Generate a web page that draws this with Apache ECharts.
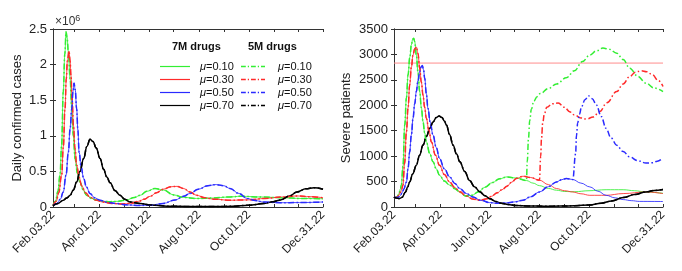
<!DOCTYPE html>
<html>
<head>
<meta charset="utf-8">
<script src="https://cdn.jsdelivr.net/npm/echarts@6/dist/echarts.min.js"></script>
<style>html,body{margin:0;padding:0;background:#fff}#c{width:682px;height:271px}</style>
</head>
<body>
<div id="c"></div>
<script>
// x: days since Feb.03.22
const tickDays = [0, 26, 57, 87, 118, 148, 179, 210, 240, 271, 301, 331];
const labelDays = [0, 57, 118, 179, 240, 331];
const tickLabels = ['Feb.03.22', 'Apr.01.22', 'Jun.01.22', 'Aug.01.22', 'Oct.01.22', 'Dec.31.22'];
const muNames = ['0.10', '0.30', '0.50', '0.70'];

// Daily confirmed cases (x10^6)
const casesMu10 = [[0,0.02],[3,0.08],[6,0.22],[8.6,0.45],[10.5,0.85],[12.6,1.62],[14.5,2.15],[16,2.46],[17.3,2.38],[18.8,2.18],[21,1.8],[23,1.38],[25,1.0],[27,0.68],[30,0.47],[33,0.35],[37,0.24],[41,0.165],[47,0.12],[54,0.094],[62,0.08],[70,0.075],[80,0.08],[90,0.1],[100,0.135],[107,0.165],[115,0.22],[125,0.26],[135,0.24],[148,0.17],[160,0.135],[176,0.12],[195,0.125],[215,0.14],[230,0.15],[258,0.14],[280,0.13],[305,0.12],[331,0.115]];
const casesMu30 = [[0,0.02],[4,0.08],[7,0.2],[10.6,0.45],[12.7,0.85],[14.7,1.38],[16.3,1.8],[17.6,2.05],[19.6,2.19],[21,2.05],[22,1.85],[23.5,1.5],[25,1.15],[27,0.82],[29,0.59],[32,0.42],[35,0.3],[40,0.2],[45,0.14],[52,0.1],[61,0.07],[72,0.05],[85,0.042],[95,0.05],[105,0.08],[112,0.11],[119,0.15],[127,0.2],[135,0.25],[145,0.285],[152,0.29],[160,0.26],[168,0.21],[176,0.165],[186,0.13],[197,0.11],[217,0.095],[240,0.1],[260,0.12],[280,0.14],[299,0.155],[315,0.145],[331,0.13]];
const casesMu50 = [[0,0.02],[5,0.05],[9,0.11],[12.6,0.21],[16,0.45],[18.8,0.77],[21,1.1],[23,1.38],[24.5,1.62],[25.8,1.74],[27.2,1.65],[29,1.38],[30.5,1.08],[32,0.77],[34.5,0.56],[37.6,0.4],[41,0.28],[45.4,0.19],[51,0.13],[57.7,0.094],[67,0.065],[78,0.048],[90,0.03],[105,0.022],[120,0.025],[135,0.05],[150,0.1],[160,0.15],[168,0.19],[178,0.25],[190,0.3],[200,0.315],[209,0.3],[217,0.26],[228,0.19],[238,0.12],[248,0.09],[258,0.07],[279,0.06],[300,0.062],[331,0.07]];
const casesMu70 = [[0,0.02],[6,0.05],[12,0.09],[17,0.125],[21,0.165],[25,0.24],[29,0.35],[33,0.5],[37.6,0.68],[41.5,0.85],[45.4,0.95],[49,0.92],[53,0.83],[57.7,0.68],[62,0.53],[66,0.42],[70,0.34],[76,0.23],[82,0.165],[88,0.11],[94.5,0.07],[107,0.048],[120,0.028],[140,0.012],[170,0.006],[200,0.006],[220,0.01],[240,0.025],[258,0.048],[270,0.075],[279,0.1],[290,0.155],[299,0.21],[310,0.255],[320,0.27],[331,0.25]];

// Severe patients, 7M drugs
const severe7Mu10 = [[0,200],[2,185],[4,200],[6,260],[8,360],[9,430],[11,800],[13.2,1610],[15.3,2150],[17.3,2600],[19.5,2950],[21.4,3190],[23,3300],[24.2,3320],[25.5,3250],[27.5,2990],[29.5,2650],[31.6,2270],[33.7,1950],[35.7,1680],[37.7,1460],[39.8,1280],[44,1050],[48,890],[52,750],[56,625],[62,510],[68.5,430],[75,360],[81,290],[88,215],[96,230],[104,300],[112,390],[121,480],[130,555],[139,592],[150,570],[163,520],[171,470],[179,420],[190,365],[200,330],[210,305],[222,300],[240,320],[261,340],[282,340],[296,320],[310,295],[331,270]];
const severe7Mu30 = [[0,200],[2,185],[4,195],[6,230],[8,290],[9.5,350],[11,430],[13,850],[15.3,1480],[17.3,1950],[19.3,2400],[21.4,2750],[23.4,2990],[25.5,3110],[27.5,3145],[29.5,3020],[31.6,2730],[33.7,2450],[35.7,2200],[37.7,1960],[39.8,1745],[43,1500],[46,1280],[51,1020],[56,820],[62,640],[68.5,490],[75,380],[81,300],[89,215],[97,155],[106,132],[114,160],[120,210],[127,280],[133,340],[139,410],[145,490],[150.6,560],[158.7,605],[168,580],[179,527],[190,440],[200,363],[210,320],[220,296],[230,260],[241,230],[261,230],[282,264],[310,296],[331,264]];
const severe7Mu50 = [[0,200],[2,185],[4,185],[6,200],[8,230],[10,280],[12,350],[15.3,490],[17.3,760],[19.3,1085],[21.4,1420],[23.4,1745],[25.5,2030],[27.5,2270],[29.5,2490],[31.6,2660],[33.5,2760],[34.9,2780],[36.3,2700],[37.8,2530],[39.8,2230],[41.8,1940],[44.5,1670],[48,1415],[52,1170],[56,955],[62,750],[68.5,590],[75,460],[81,363],[89,265],[97,197],[107,130],[118,85],[128,72],[138,80],[148,100],[158.7,132],[168,200],[179,296],[190,400],[200,493],[206,535],[212,560],[220,540],[230,470],[241,395],[251,310],[261,230],[272,180],[282,146],[292,125],[302,110],[331,108]];
const severe7Mu70 = [[0,200],[3,175],[6.6,165],[10,190],[14,290],[17,400],[19.3,493],[23,650],[27.5,823],[31.5,1020],[35.7,1217],[40,1390],[44,1547],[48,1670],[52,1760],[55.4,1790],[59,1760],[62,1690],[64.5,1610],[68.5,1420],[72.6,1217],[77,1040],[81,888],[87,700],[93,520],[99,400],[105.5,300],[112,220],[118,160],[125,110],[132,75],[140,50],[150,30],[165,20],[185,15],[205,18],[222,25],[241,40],[255,75],[268,120],[282,185],[296,245],[310,296],[320,325],[331,345]];

// Severe patients, 5M drugs: part after it leaves the 7M curve
const severe5Mu10Tail = [[164,900],[165.5,1350],[167,1700],[169,1920],[172,2080],[176,2170],[180,2230],[190,2330],[200,2420],[212,2540],[222,2680],[232,2860],[241,2990],[249,3070],[257,3125],[265,3100],[274,3025],[282,2900],[290,2730],[300,2570],[310,2435],[320,2340],[331,2270]];
const severe5Mu30Tail = [[180.5,1000],[181.5,1350],[183,1650],[185,1830],[188,1960],[195,2030],[202,2045],[210,1960],[216,1875],[222,1810],[230,1750],[237,1730],[245,1770],[253,1875],[262,2050],[274,2270],[282,2420],[290,2565],[297,2650],[304,2680],[311,2660],[318,2600],[325,2490],[331,2370]];
const severe5Mu50Tail = [[223.5,1050],[224.5,1400],[226,1650],[228,1820],[231,1980],[235,2110],[239.6,2185],[244,2130],[249,2005],[255,1780],[261,1545],[267,1360],[274,1215],[282,1090],[290,985],[300,910],[310,865],[318,870],[324,900],[331,965]];
const splitDays = [163, 179, 222];
const capacityLevel = 2830;

const withTail = (base, split, tail) => base.filter(p => p[0] <= split).concat(tail);
const severe5Mu10 = withTail(severe7Mu10, splitDays[0], severe5Mu10Tail);
const severe5Mu30 = withTail(severe7Mu30, splitDays[1], severe5Mu30Tail);
const severe5Mu50 = withTail(severe7Mu50, splitDays[2], severe5Mu50Tail);
const severe5Mu70 = severe7Mu70;

const colors = ['#33ee33', '#ff2a2a', '#2a2aff', '#000000'];
const FONT = 'Liberation Sans, Arial, Helvetica, sans-serif';
const dashDot = [6, 2.5, 1.5, 2.5];

const cases7 = [casesMu10, casesMu30, casesMu50, casesMu70];
const cases5 = [casesMu10, casesMu30, casesMu50, casesMu70];
const sev7 = [severe7Mu10, severe7Mu30, severe7Mu50, severe7Mu70];
const sev5 = [severe5Mu10, severe5Mu30, severe5Mu50, severe5Mu70];

const axisColor = '#333';
function xAx(grid, pos, labels) {
  return {
    type: 'value', gridIndex: grid, position: pos, min: 0, max: 331,
    axisLine: { show: true, onZero: false, lineStyle: { color: axisColor, width: 1 } },
    axisTick: { show: true, inside: true, length: 3, customValues: tickDays, lineStyle: { color: axisColor } },
    splitLine: { show: false },
    axisLabel: labels ? {
      show: true, rotate: 45, margin: 6, fontSize: 12, color: '#222', fontFamily: FONT,
      customValues: labelDays,
      formatter: v => tickLabels[labelDays.indexOf(v)] || ''
    } : { show: false }
  };
}
function yAx(grid, pos, max, interval, labels, name, nameGap) {
  return {
    type: 'value', gridIndex: grid, position: pos, min: 0, max: max, interval: interval,
    name: name || '', nameLocation: 'middle', nameGap: nameGap || 0,
    nameTextStyle: { fontSize: 13, color: '#222', fontFamily: FONT },
    axisLine: { show: true, lineStyle: { color: axisColor, width: 1 } },
    axisTick: { show: true, inside: true, length: 3, lineStyle: { color: axisColor } },
    splitLine: { show: false },
    axisLabel: labels ? { show: true, fontSize: 13, color: '#222', margin: 6, fontFamily: FONT, formatter: v => String(v) } : { show: false }
  };
}

const series = [];
function addSeries(arr, xi, yi) {
  for (let k = 0; k < 4; k++) {
    series.push({
      name: '7M μ=' + muNames[k], type: 'line', xAxisIndex: xi, yAxisIndex: yi,
      data: arr[0][k], showSymbol: false, symbol: 'none', smooth: 0.4, smoothMonotone: 'x',
      lineStyle: { color: colors[k], width: k === 3 ? 1.5 : 1, opacity: k === 3 ? 1 : 0.85 },
      itemStyle: { color: colors[k] }, z: 2
    });
  }
  for (let k = 0; k < 4; k++) {
    series.push({
      name: '5M μ=' + muNames[k], type: 'line', xAxisIndex: xi, yAxisIndex: yi,
      data: arr[1][k], showSymbol: false, symbol: 'none', smooth: 0.4, smoothMonotone: 'x',
      lineStyle: { color: colors[k], width: 1.5, type: dashDot },
      itemStyle: { color: colors[k] }, z: 3
    });
  }
}
addSeries([cases7, cases5], 0, 0);
addSeries([sev7, sev5], 2, 2);
series.push({
  name: 'capacity', type: 'line', xAxisIndex: 2, yAxisIndex: 2,
  data: [[0, capacityLevel], [331, capacityLevel]], showSymbol: false, symbol: 'none',
  lineStyle: { color: '#ff8c8c', width: 1 }, z: 1
});

const dashIcon = 'path://M0,0H6V2H0Z M8.5,0H10V2H8.5Z M12.5,0H18.5V2H12.5Z M21,0H22.5V2H21Z M25,0H30V2H25Z';
const legendCommon = {
  show: true, orient: 'vertical', itemWidth: 30, itemGap: 0,
  textStyle: { fontSize: 11, color: '#111', fontFamily: FONT, lineHeight: 13, padding: [0, 0, 0, 5],
    rich: { i: { fontStyle: 'italic', fontSize: 11, lineHeight: 13, fontFamily: FONT, color: '#111' },
            n: { fontSize: 11, lineHeight: 13, fontFamily: FONT, color: '#111' } } },
  formatter: n => '{i|μ}{n|=' + n.split('=')[1] + '}',
  selectedMode: false
};

const option = {
  animation: false,
  grid: [
    { left: 53, right: 359, top: 29, bottom: 64 },
    { left: 394, right: 19, top: 29, bottom: 64 }
  ],
  xAxis: [xAx(0, 'bottom', true), xAx(0, 'top', false), xAx(1, 'bottom', true), xAx(1, 'top', false)],
  yAxis: [
    yAx(0, 'left', 2.5, 0.5, true, 'Daily confirmed cases', 29),
    yAx(0, 'right', 2.5, 0.5, false),
    yAx(1, 'left', 3500, 500, true, 'Severe patients', 41),
    yAx(1, 'right', 3500, 500, false)
  ],
  legend: [
    Object.assign({}, legendCommon, { id: 'l7', left: 155, top: 55, icon: 'rect', itemHeight: 1.2,
      data: muNames.map(m => '7M μ=' + m) }),
    Object.assign({}, legendCommon, { id: 'l5', left: 236, top: 55, icon: dashIcon, itemHeight: 1.6,
      data: muNames.map(m => '5M μ=' + m) })
  ],
  graphic: [
    { type: 'text', left: 172, top: 41, style: { text: '7M drugs', font: 'bold 11px ' + FONT, fill: '#111' } },
    { type: 'text', left: 248, top: 41, style: { text: '5M drugs', font: 'bold 11px ' + FONT, fill: '#111' } },
    { type: 'text', left: 55, top: 14, style: { text: '×10{s|6}', font: '12px ' + FONT, fill: '#333',
      rich: { s: { fontSize: 9, verticalAlign: 'top', padding: [0, 0, 6, 0], fontFamily: FONT, fill: '#333' } } } }
  ],
  series: series
};
const chart = echarts.init(document.getElementById('c'), null, { renderer: 'canvas' });
chart.setOption(option);
</script>
</body>
</html>
